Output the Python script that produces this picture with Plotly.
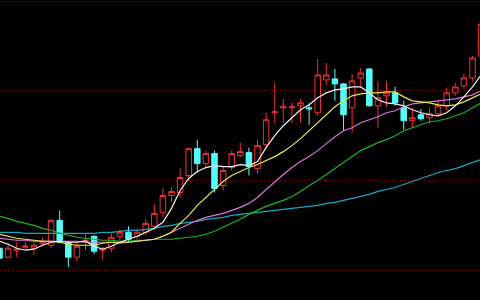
import plotly.graph_objects as go

# candle index (trading days)
days = list(range(57))

open_ = [11.04, 10.86, 11.00, 11.06, 11.04, 11.14, 11.10, 11.60, 11.16, 10.86,
         11.18, 11.28, 11.00, 11.04, 11.28, 11.36, 11.28, 11.36, 11.48, 11.76,
         12.10, 12.16, 12.50, 13.04, 12.74, 12.94, 12.30, 12.66, 12.90, 12.96,
         12.64, 13.12, 13.76, 13.86, 13.86, 13.90, 13.86, 13.76, 14.42, 14.44,
         14.34, 13.86, 14.46, 14.64, 13.90, 14.10, 14.16, 13.86, 13.60, 13.72,
         13.66, 13.74, 13.90, 14.16, 14.30, 14.46, 14.90]
high = [11.08, 11.14, 11.16, 11.16, 11.16, 11.26, 11.62, 11.80, 11.18, 11.16,
        11.32, 11.30, 11.06, 11.34, 11.42, 11.48, 11.44, 11.62, 11.92, 12.24,
        12.26, 12.64, 13.06, 13.22, 13.00, 13.00, 12.70, 13.00, 13.16, 13.06,
        13.22, 13.76, 14.36, 14.04, 13.96, 14.04, 13.94, 14.84, 14.76, 14.64,
        14.36, 14.54, 14.66, 14.66, 14.40, 14.40, 14.28, 14.00, 13.86, 13.84,
        13.86, 14.02, 14.26, 14.36, 14.54, 14.90, 15.60]
low = [10.82, 10.84, 10.86, 11.00, 10.90, 11.08, 11.04, 11.14, 10.66, 10.78,
       11.00, 10.92, 10.80, 10.96, 11.20, 11.16, 11.22, 11.30, 11.40, 11.66,
       11.96, 12.06, 12.40, 12.56, 12.64, 12.16, 12.20, 12.60, 12.86, 12.50,
       12.54, 13.06, 13.56, 13.56, 13.56, 13.56, 13.52, 13.70, 14.32, 14.00,
       13.40, 13.36, 14.26, 13.88, 13.46, 13.88, 13.90, 13.42, 13.46, 13.60,
       13.54, 13.70, 13.80, 14.10, 14.24, 14.40, 14.86]
close = [10.84, 11.04, 11.02, 11.08, 11.10, 11.18, 11.60, 11.16, 10.86, 11.08,
         11.20, 10.98, 11.04, 11.26, 11.36, 11.22, 11.36, 11.54, 11.74, 12.10,
         12.18, 12.46, 13.04, 12.74, 12.94, 12.24, 12.60, 12.94, 12.98, 12.68,
         13.10, 13.62, 13.78, 13.88, 13.88, 13.96, 13.84, 14.52, 14.52, 14.34,
         13.72, 14.40, 14.56, 13.90, 14.06, 14.16, 13.96, 13.60, 13.66, 13.64,
         13.74, 13.90, 14.16, 14.28, 14.46, 14.86, 15.54]

ma5 = [11.18, 11.12, 11.04, 11.00, 11.02, 11.10, 11.16, 11.18, 11.16, 11.16,
       11.18, 11.08, 11.02, 11.08, 11.16, 11.22, 11.28, 11.36, 11.44, 11.56,
       11.84, 12.20, 12.44, 12.58, 12.66, 12.70, 12.68, 12.68, 12.72, 12.70,
       12.78, 13.06, 13.30, 13.50, 13.66, 13.82, 13.92, 14.06, 14.16, 14.22,
       14.24, 14.28, 14.28, 14.16, 14.02, 13.96, 13.94, 13.90, 13.82, 13.76,
       13.72, 13.70, 13.76, 13.90, 14.08, 14.28, 14.52]
ma10 = [11.32, 11.28, 11.24, 11.22, 11.20, 11.18, 11.18, 11.16, 11.12, 11.10,
        11.10, 11.10, 11.14, 11.16, 11.16, 11.16, 11.18, 11.20, 11.22, 11.28,
        11.36, 11.54, 11.70, 11.90, 12.06, 12.24, 12.38, 12.50, 12.58, 12.66,
        12.72, 12.80, 12.88, 12.98, 13.10, 13.24, 13.40, 13.56, 13.72, 13.88,
        14.00, 14.10, 14.14, 14.16, 14.16, 14.18, 14.18, 14.08, 14.00, 13.98,
        13.96, 13.92, 13.90, 13.92, 13.98, 14.06, 14.14]
ma20 = [11.24, 11.22, 11.20, 11.20, 11.18, 11.18, 11.18, 11.18, 11.18, 11.18,
        11.16, 11.16, 11.16, 11.16, 11.14, 11.16, 11.18, 11.20, 11.22, 11.28,
        11.36, 11.44, 11.52, 11.60, 11.66, 11.70, 11.74, 11.80, 11.86, 11.94,
        12.06, 12.22, 12.38, 12.52, 12.66, 12.78, 12.88, 13.00, 13.14, 13.28,
        13.40, 13.46, 13.56, 13.62, 13.68, 13.76, 13.80, 13.88, 13.94, 13.96,
        13.98, 14.00, 14.02, 14.04, 14.08, 14.12, 14.20]
ma30 = [11.68, 11.64, 11.58, 11.54, 11.50, 11.44, 11.40, 11.34, 11.30, 11.26,
        11.24, 11.22, 11.20, 11.20, 11.18, 11.18, 11.20, 11.20, 11.22, 11.22,
        11.22, 11.24, 11.26, 11.28, 11.32, 11.38, 11.46, 11.54, 11.62, 11.72,
        11.80, 11.88, 11.94, 12.00, 12.08, 12.18, 12.30, 12.40, 12.52, 12.64,
        12.76, 12.88, 13.00, 13.08, 13.16, 13.22, 13.30, 13.40, 13.46, 13.52,
        13.58, 13.60, 13.64, 13.70, 13.76, 13.86, 13.96]
ma60 = [11.36, 11.36, 11.36, 11.34, 11.34, 11.34, 11.34, 11.34, 11.34, 11.34,
        11.34, 11.34, 11.36, 11.36, 11.38, 11.40, 11.40, 11.42, 11.44, 11.48,
        11.50, 11.54, 11.56, 11.58, 11.62, 11.64, 11.66, 11.70, 11.72, 11.74,
        11.76, 11.78, 11.80, 11.82, 11.84, 11.86, 11.88, 11.90, 11.94, 11.96,
        12.00, 12.04, 12.08, 12.12, 12.18, 12.22, 12.26, 12.32, 12.38, 12.44,
        12.50, 12.56, 12.60, 12.64, 12.70, 12.76, 12.82]

grid_levels = [10.6, 12.4, 14.2, 16.0]

RED = "#f03232"
CYAN = "#54fcfc"

fig = go.Figure()
fig.add_trace(go.Candlestick(
    x=days, open=open_, high=high, low=low, close=close,
    increasing=dict(line=dict(color=RED, width=1), fillcolor="#000000"),
    decreasing=dict(line=dict(color=CYAN, width=1), fillcolor=CYAN),
    whiskerwidth=0, hoverinfo="skip", showlegend=False,
))

ma_styles = [(ma60, "#1aa7c4"), (ma30, "#1cb41c"), (ma20, "#e070e0"),
             (ma10, "#e8e84a"), (ma5, "#f0f0f0")]
for vals, col in ma_styles:
    fig.add_trace(go.Scatter(x=days, y=vals, mode="lines",
                             line=dict(color=col, width=1.2),
                             hoverinfo="skip", showlegend=False))

fig.update_layout(
    width=480, height=300,
    margin=dict(l=0, r=0, t=0, b=0),
    paper_bgcolor="#000000", plot_bgcolor="#000000",
    showlegend=False,
    boxgap=0.2, boxgroupgap=0.2,
    xaxis=dict(range=[0.058, 55.87], showgrid=False, zeroline=False,
               showticklabels=False, ticks="", rangeslider=dict(visible=False),
               showline=False),
    yaxis=dict(range=[10.0, 16.025], tickvals=grid_levels, showgrid=True,
               gridcolor="#780000", gridwidth=1, griddash="2px,2px",
               zeroline=False, showticklabels=False, ticks="", showline=False),
)

fig.write_html("out.html")
